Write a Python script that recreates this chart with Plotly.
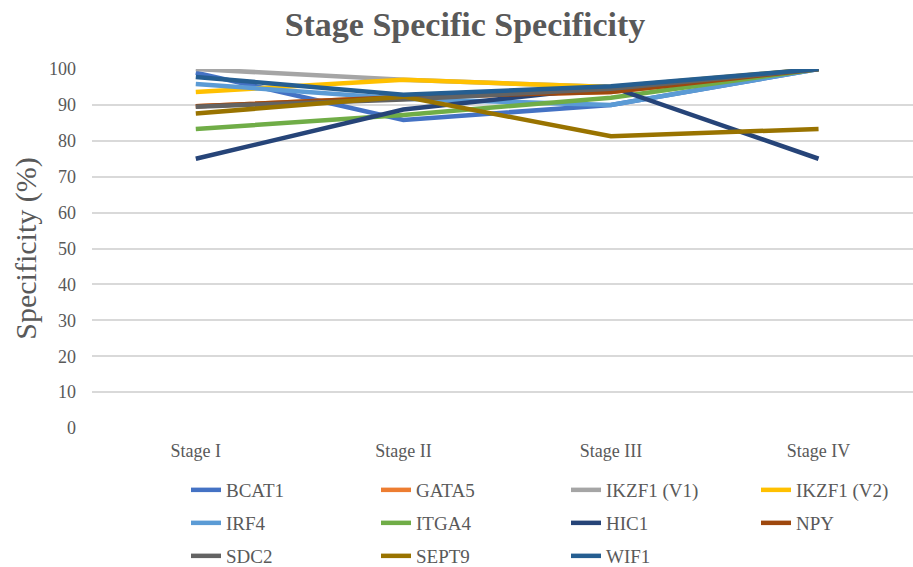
import plotly.graph_objects as go

stages = ["Stage I", "Stage II", "Stage III", "Stage IV"]
series_names = ["BCAT1", "GATA5", "IKZF1 (V1)", "IKZF1 (V2)", "IRF4", "ITGA4",
                "HIC1", "NPY", "SDC2", "SEPT9", "WIF1"]
BCAT1 = [99.0, 85.8, 90.0, 100]
GATA5 = [89.6, 92.2, 93.6, 100]
IKZF1_V1 = [100, 97.0, 95.0, 100]
IKZF1_V2 = [93.6, 97.0, 95.0, 100]
IRF4 = [95.8, 91.7, 90.0, 100]
ITGA4 = [83.3, 87.2, 92.0, 100]
HIC1 = [75.0, 88.7, 95.0, 75.0]
NPY = [89.6, 92.2, 93.6, 100]
SDC2 = [89.5, 91.5, 94.5, 100]
SEPT9 = [87.6, 92.3, 81.3, 83.3]
WIF1 = [97.8, 92.8, 95.2, 100]
values = [BCAT1, GATA5, IKZF1_V1, IKZF1_V2, IRF4, ITGA4, HIC1, NPY, SDC2, SEPT9, WIF1]
colors = ["#4472C4", "#ED7D31", "#A5A5A5", "#FFC000", "#5B9BD5", "#70AD47",
          "#264478", "#9E480E", "#636363", "#997300", "#255E91"]
legend_rows = ["legend", "legend", "legend", "legend",
               "legend2", "legend2", "legend2", "legend2",
               "legend3", "legend3", "legend3"]

FONT = "Liberation Serif"
GREY = "#595959"

fig = go.Figure()
xs = list(range(len(stages)))
for name, vals, col, lg in zip(series_names, values, colors, legend_rows):
    fig.add_trace(go.Scatter(
        x=xs, y=vals, name=name, mode="lines",
        line=dict(color=col, width=4.5),
        cliponaxis=False, legend=lg,
    ))

W, H = 913, 567
L, T, B = 92, 69, 567 - 427.7

def legend_cfg(yc):
    return dict(
        orientation="h", xref="container", yref="container",
        x=186 / W, xanchor="left", y=1 - yc / H, yanchor="middle",
        entrywidth=145, entrywidthmode="pixels",
        font=dict(family=FONT, size=19, color=GREY),
        bgcolor="rgba(0,0,0,0)", itemclick=False, itemdoubleclick=False,
    )

fig.update_layout(
    width=W, height=H,
    font=dict(family=FONT, color=GREY, size=19),
    margin=dict(l=L, r=0, t=T, b=B, autoexpand=False),
    paper_bgcolor="white", plot_bgcolor="white",
    title=dict(text="<b>Stage Specific Specificity</b>", x=465 / W, xref="container",
               xanchor="center", y=1 - 24 / H, yref="container", yanchor="middle",
               font=dict(family=FONT, size=34, color=GREY)),
    xaxis=dict(
        range=[-0.5, 3.455], tickvals=xs, ticktext=stages,
        showgrid=False, zeroline=False, showline=False, ticks="",
        ticklabelstandoff=10,
        tickfont=dict(family=FONT, size=18, color=GREY),
    ),
    yaxis=dict(
        range=[0, 100], dtick=10, tick0=0,
        showgrid=True, gridcolor="#D9D9D9", gridwidth=1.5,
        zeroline=False, showline=False, ticks="",
        ticklabelstandoff=15,
        tickfont=dict(family=FONT, size=18, color=GREY),
        title=dict(text="Specificity (%)", standoff=3,
                   font=dict(family=FONT, size=30, color=GREY)),
    ),
    legend=legend_cfg(490),
    legend2=legend_cfg(523),
    legend3=legend_cfg(556),
    showlegend=True,
)

fig.write_html("out.html", config={"displayModeBar": False},
               post_script="document.body.style.margin='0';")
